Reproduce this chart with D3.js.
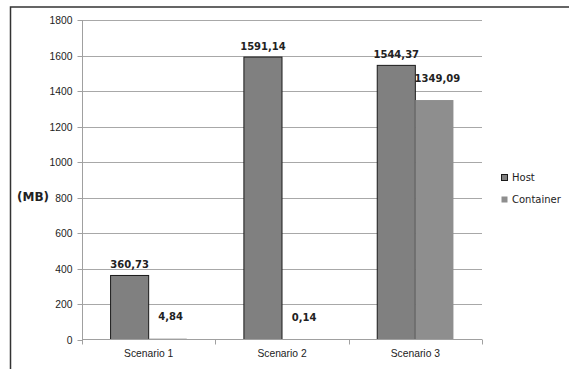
<!DOCTYPE html>
<html>
<head>
<meta charset="utf-8">
<script src="https://cdn.jsdelivr.net/npm/d3@7"></script>
<style>
  body { margin: 0; background: #fff; }
  svg { display: block; font-family: "DejaVu Sans", Verdana, sans-serif; }
  .axis path, .axis line { stroke: #a0a0a0; }
  .axis text { fill: #222; font-size: 10.3px; }
</style>
</head>
<body>
<script>
const WIDTH = 569;
const HEIGHT = 369;

// the data
const categories = ["Scenario 1", "Scenario 2", "Scenario 3"];
const seriesNames = ["Host", "Container"];
const hostValues = [360.73, 1591.14, 1544.37];
const containerValues = [4.84, 0.14, 1349.09];
const yTicks = [0, 200, 400, 600, 800, 1000, 1200, 1400, 1600, 1800];

const COLORS = { Host: "#808080", Container: "#8e8e8e" };
const LABEL_OFFSET = { Host: 11, Container: 22 };

const plot = { left: 82, right: 482, top: 20, bottom: 339.5 };

const svg = d3.select("body").append("svg")
  .attr("width", WIDTH)
  .attr("height", HEIGHT);

// outer frame (runs off right and bottom)
svg.append("rect")
  .attr("x", 10.5).attr("y", 7)
  .attr("width", 700).attr("height", 500)
  .attr("fill", "#fff")
  .attr("stroke", "#333")
  .attr("stroke-width", 1.5);

// scales
const xScale = d3.scaleBand()
  .domain(categories)
  .range([plot.left, plot.right]);

const yScale = d3.scaleLinear()
  .domain([0, 1800])
  .range([plot.bottom, plot.top]);

// excel style gap width 150%
const barWidth = xScale.bandwidth() / 3.5;
const gap = barWidth * 0.75;

// gridlines
svg.append("g")
  .selectAll("line")
  .data(yTicks.filter(d => d > 0))
  .enter().append("line")
  .attr("x1", plot.left).attr("x2", plot.right)
  .attr("y1", d => Math.round(yScale(d)) + 0.5)
  .attr("y2", d => Math.round(yScale(d)) + 0.5)
  .attr("stroke", "#a8a8a8");

// y axis
const yAxis = d3.axisLeft(yScale).tickValues(yTicks).tickFormat(d3.format("d")).tickSize(5).tickPadding(5);
const gy = svg.append("g")
  .attr("class", "axis")
  .attr("transform", "translate(" + (plot.left + 0.5) + ",0)")
  .call(yAxis);
gy.selectAll(".tick").attr("transform", d => "translate(0," + (Math.round(yScale(d)) + 0.5) + ")");
gy.select(".domain").attr("d", "M0," + plot.top + "V" + plot.bottom);

// bars
const series = [
  { name: "Host", values: hostValues },
  { name: "Container", values: containerValues }
];

series.forEach((s, i) => {
  const g = svg.append("g");
  g.selectAll("rect")
    .data(s.values)
    .enter().append("rect")
    .attr("x", (d, j) => xScale(categories[j]) + gap + i * barWidth)
    .attr("y", d => yScale(d))
    .attr("width", barWidth)
    .attr("height", d => plot.bottom - yScale(d))
    .attr("fill", COLORS[s.name])
    .attr("stroke", s.name === "Host" ? "#1a1a1a" : "none")
    .attr("stroke-width", 1);

  g.selectAll("text")
    .data(s.values)
    .enter().append("text")
    .attr("x", (d, j) => xScale(categories[j]) + gap + i * barWidth + barWidth / 2 + (i ? 3 : 0))
    .attr("y", d => yScale(d) - LABEL_OFFSET[s.name])
    .attr("dy", "0.35em")
    .attr("text-anchor", "middle")
    .attr("font-size", "10px")
    .attr("font-weight", "bold")
    .attr("fill", "#222")
    .text(d => d.toFixed(2).replace(".", ","));
});

// x axis
const xAxis = d3.axisBottom(xScale).tickSize(0).tickPadding(10);
const gx = svg.append("g")
  .attr("class", "axis")
  .attr("transform", "translate(0," + plot.bottom + ")")
  .call(xAxis);
gx.select(".domain").attr("d", "M" + plot.left + ",0H" + plot.right);
// category boundary ticks
gx.selectAll(".bound")
  .data(d3.range(categories.length + 1))
  .enter().append("line")
  .attr("class", "bound")
  .attr("x1", i => Math.round(plot.left + i * xScale.step()) + 0.5)
  .attr("x2", i => Math.round(plot.left + i * xScale.step()) + 0.5)
  .attr("y1", 0).attr("y2", 5);

// y label
svg.append("text")
  .attr("x", 17)
  .attr("y", 197)
  .attr("dy", "0.35em")
  .attr("font-size", "12px")
  .attr("font-weight", "bold")
  .attr("fill", "#222")
  .text("(MB)");

// legend
const legend = svg.append("g").attr("transform", "translate(501,177)");
seriesNames.forEach((name, i) => {
  const row = legend.append("g").attr("transform", "translate(0," + i * 22 + ")");
  row.append("rect")
    .attr("x", 0.5).attr("y", -2.5)
    .attr("width", 6).attr("height", 6)
    .attr("fill", COLORS[name])
    .attr("stroke", name === "Host" ? "#1a1a1a" : "none");
  row.append("text")
    .attr("x", 11)
    .attr("y", 0.5)
    .attr("dy", "0.35em")
    .attr("font-size", "10px")
    .attr("fill", "#222")
    .text(name);
});
</script>
</body>
</html>
